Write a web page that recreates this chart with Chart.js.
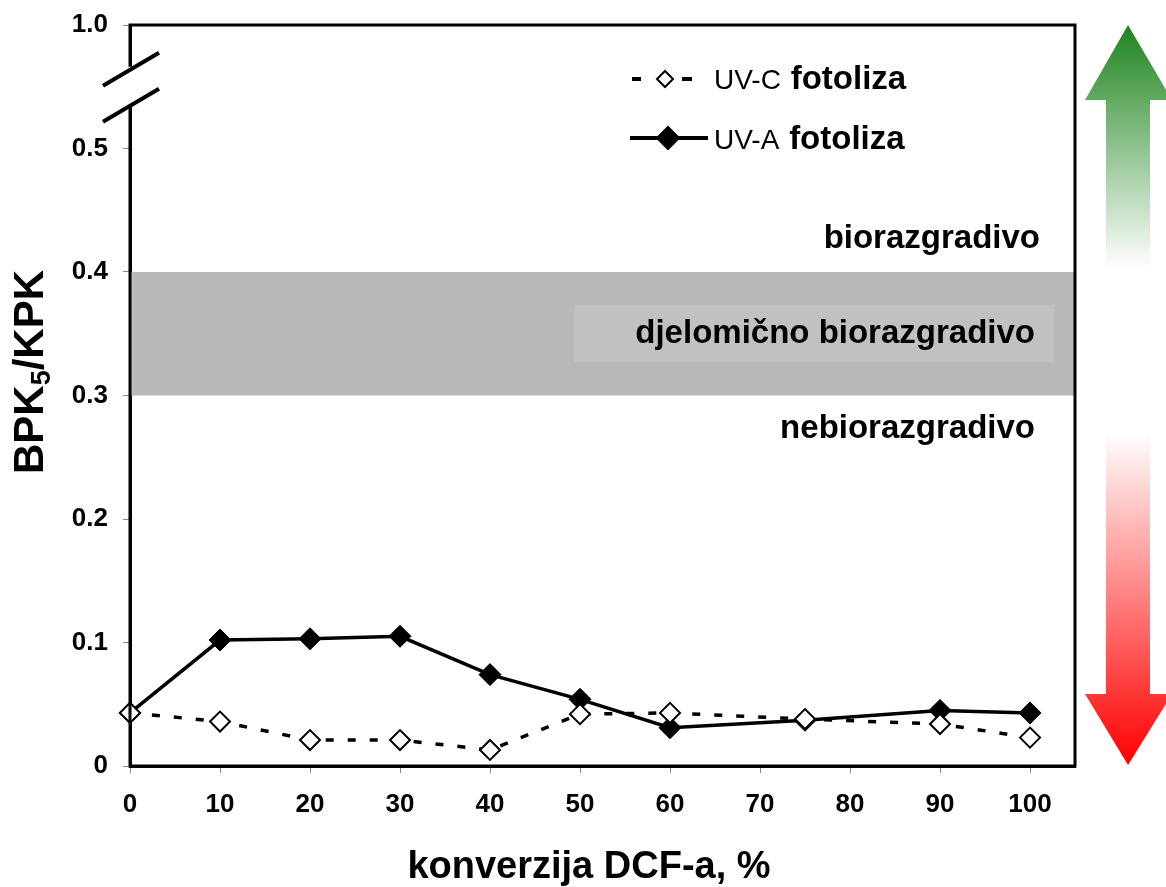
<!DOCTYPE html>
<html>
<head>
<meta charset="utf-8">
<script src="https://cdn.jsdelivr.net/npm/chart.js@4.4.1/dist/chart.umd.min.js"></script>
<style>
  html, body { margin: 0; padding: 0; background: #fff; }
  #wrap { width: 1166px; height: 887px; position: relative; }
</style>
</head>
<body>
<div id="wrap"><canvas id="myChart" width="1166" height="887"></canvas></div>
<script>
// konverzija DCF-a (%)
const conversion = [0, 10, 20, 30, 40, 50, 60, 75, 90, 100];
// BPK5/KPK
const uvC = [0.043, 0.036, 0.021, 0.021, 0.013, 0.042, 0.043, 0.038, 0.034, 0.023];
const uvA = [0.043, 0.102, 0.103, 0.105, 0.074, 0.054, 0.031, 0.037, 0.045, 0.043];

const xTicks = [0, 10, 20, 30, 40, 50, 60, 70, 80, 90, 100];
const yTicks = [0, 0.1, 0.2, 0.3, 0.4, 0.5, 0.6];
const yTickLabels = ['0', '0.1', '0.2', '0.3', '0.4', '0.5', '1.0'];

// band for "djelomično biorazgradivo"
const bandLow = 0.3, bandHigh = 0.4;

const FONT = '"Liberation Sans", Arial, sans-serif';

const decorations = {
  id: 'decorations',
  beforeDatasetsDraw(chart) {
    const ctx = chart.ctx, a = chart.chartArea;
    const y = chart.scales.y;
    const top = y.getPixelForValue(bandHigh), bot = y.getPixelForValue(bandLow);
    ctx.save();
    ctx.fillStyle = '#b8b8b8';
    ctx.fillRect(a.left, top, a.right - a.left, bot - top);
    ctx.fillStyle = '#c1c1c1';
    ctx.fillRect(574, top + 33, 480, 57);
    ctx.fillStyle = '#000';
    ctx.font = 'bold 33px ' + FONT;
    ctx.textAlign = 'right';
    ctx.textBaseline = 'middle';
    ctx.fillText('biorazgradivo', 1040, top - 33);
    ctx.fillText('djelomično biorazgradivo', 1035, (top + bot) / 2);
    ctx.fillText('nebiorazgradivo', 1035, bot + 33);
    ctx.restore();
  },
  afterDraw(chart) {
    const ctx = chart.ctx, a = chart.chartArea;
    const y = chart.scales.y;
    ctx.save();
    // frame
    ctx.strokeStyle = '#000';
    ctx.lineWidth = 3;
    ctx.strokeRect(a.left, a.top, a.right - a.left, a.bottom - a.top);

    // axis break
    const yb = y.getPixelForValue(0.55);
    ctx.fillStyle = '#fff';
    ctx.fillRect(a.left - 3, yb - 20, 6, 38);
    ctx.lineWidth = 4;
    ctx.beginPath();
    ctx.moveTo(a.left - 27, yb - 1); ctx.lineTo(a.left + 29, yb - 34);
    ctx.moveTo(a.left - 27, yb + 35); ctx.lineTo(a.left + 29, yb + 2);
    ctx.stroke();

    // legend
    ctx.lineWidth = 4;
    ctx.beginPath();
    ctx.moveTo(632, 79); ctx.lineTo(641, 79);
    ctx.moveTo(682, 79); ctx.lineTo(692, 79);
    ctx.stroke();
    diamond(ctx, 665, 79, 8, '#fff');
    ctx.lineWidth = 4;
    ctx.beginPath(); ctx.moveTo(630, 138); ctx.lineTo(708, 138); ctx.stroke();
    diamond(ctx, 668, 138, 11, '#000');
    ctx.fillStyle = '#000';
    ctx.textBaseline = 'alphabetic';
    ctx.textAlign = 'left';
    [['UV-C ', 89], ['UV-A ', 149]].forEach(function (r) {
      ctx.font = '28px ' + FONT;
      ctx.fillText(r[0], 714, r[1]);
      const w = ctx.measureText(r[0]).width;
      ctx.font = 'bold 33px ' + FONT;
      ctx.fillText('fotoliza', 716 + w, r[1]);
    });

    // axis titles
    ctx.font = 'bold 38px ' + FONT;
    ctx.textAlign = 'center';
    ctx.textBaseline = 'alphabetic';
    ctx.fillText('konverzija DCF-a, %', 589, 878);

    ctx.translate(43, 372);
    ctx.rotate(-Math.PI / 2);
    ctx.textAlign = 'left';
    const p1 = 'BPK', p2 = '5', p3 = '/KPK';
    ctx.font = 'bold 42px ' + FONT;
    const w1 = ctx.measureText(p1).width, w3 = ctx.measureText(p3).width;
    ctx.font = 'bold 27px ' + FONT;
    const w2 = ctx.measureText(p2).width;
    let x0 = -(w1 + w2 + w3) / 2;
    ctx.font = 'bold 42px ' + FONT;
    ctx.fillText(p1, x0, 0);
    ctx.font = 'bold 27px ' + FONT;
    ctx.fillText(p2, x0 + w1, 7);
    ctx.font = 'bold 42px ' + FONT;
    ctx.fillText(p3, x0 + w1 + w2, 0);
    ctx.restore();

    // gradient arrow
    drawArrow(ctx);
  }
};

function diamond(ctx, x, y, r, fill) {
  ctx.save();
  ctx.beginPath();
  ctx.moveTo(x, y - r); ctx.lineTo(x + r, y); ctx.lineTo(x, y + r); ctx.lineTo(x - r, y);
  ctx.closePath();
  ctx.fillStyle = fill; ctx.fill();
  ctx.lineWidth = 2; ctx.strokeStyle = '#000'; ctx.stroke();
  ctx.restore();
}

function drawArrow(ctx) {
  const cx = 1128;
  const g = ctx.createLinearGradient(0, 25, 0, 765);
  g.addColorStop(0, '#1e841e');
  g.addColorStop(0.33, '#ffffff');
  g.addColorStop(0.55, '#ffffff');
  g.addColorStop(1, '#ff0000');
  ctx.save();
  ctx.beginPath();
  ctx.moveTo(cx, 25);
  ctx.lineTo(cx + 44, 100);
  ctx.lineTo(cx + 22, 100);
  ctx.lineTo(cx + 22, 694);
  ctx.lineTo(cx + 44, 694);
  ctx.lineTo(cx, 765);
  ctx.lineTo(cx - 43, 694);
  ctx.lineTo(cx - 22, 694);
  ctx.lineTo(cx - 22, 100);
  ctx.lineTo(cx - 43, 100);
  ctx.closePath();
  ctx.fillStyle = g;
  ctx.fill();
  ctx.restore();
}

new Chart(document.getElementById('myChart'), {
  type: 'line',
  data: {
    datasets: [
      {
        label: 'UV-C fotoliza',
        data: conversion.map((x, i) => ({ x: x, y: uvC[i] })),
        borderColor: '#000',
        borderWidth: 3.5,
        borderDash: [8, 14],
        backgroundColor: '#fff',
        pointStyle: 'rectRot',
        pointRadius: 10,
        pointBorderWidth: 2,
        pointBackgroundColor: '#fff',
        pointBorderColor: '#000',
        clip: false,
        fill: false
      },
      {
        label: 'UV-A fotoliza',
        data: conversion.map((x, i) => ({ x: x, y: uvA[i] })),
        borderColor: '#000',
        borderWidth: 3.5,
        backgroundColor: '#000',
        pointStyle: 'rectRot',
        pointRadius: 11,
        pointBorderWidth: 1,
        pointBackgroundColor: '#000',
        pointBorderColor: '#000',
        clip: false,
        fill: false
      }
    ]
  },
  options: {
    responsive: false,
    animation: false,
    layout: { padding: { top: 25, right: 91, left: 0, bottom: 0 } },
    plugins: { legend: { display: false }, tooltip: { enabled: false } },
    scales: {
      x: {
        type: 'linear',
        min: 0,
        max: 105,
        afterBuildTicks: (axis) => { axis.ticks = xTicks.map(v => ({ value: v })); },
        afterFit: (axis) => { axis.height = 121; axis.paddingLeft = 0; axis.paddingRight = 0; },
        border: { display: true, color: '#000', width: 3 },
        grid: { drawOnChartArea: false, tickLength: 7, tickColor: '#888', lineWidth: 1 },
        ticks: {
          color: '#000',
          padding: 16,
          maxRotation: 0,
          font: { family: FONT, size: 26, weight: 'bold' }
        }
      },
      y: {
        type: 'linear',
        min: 0,
        max: 0.6,
        afterBuildTicks: (axis) => { axis.ticks = yTicks.map(v => ({ value: v })); },
        afterFit: (axis) => { axis.width = 130; axis.paddingTop = 0; axis.paddingBottom = 0; },
        border: { display: true, color: '#000', width: 3 },
        grid: { drawOnChartArea: false, tickLength: 7, tickColor: '#888', lineWidth: 1 },
        ticks: {
          color: '#000',
          padding: 15,
          font: { family: FONT, size: 26, weight: 'bold' },
          callback: (v, i) => yTickLabels[i]
        }
      }
    }
  },
  plugins: [decorations]
});
</script>
</body>
</html>
